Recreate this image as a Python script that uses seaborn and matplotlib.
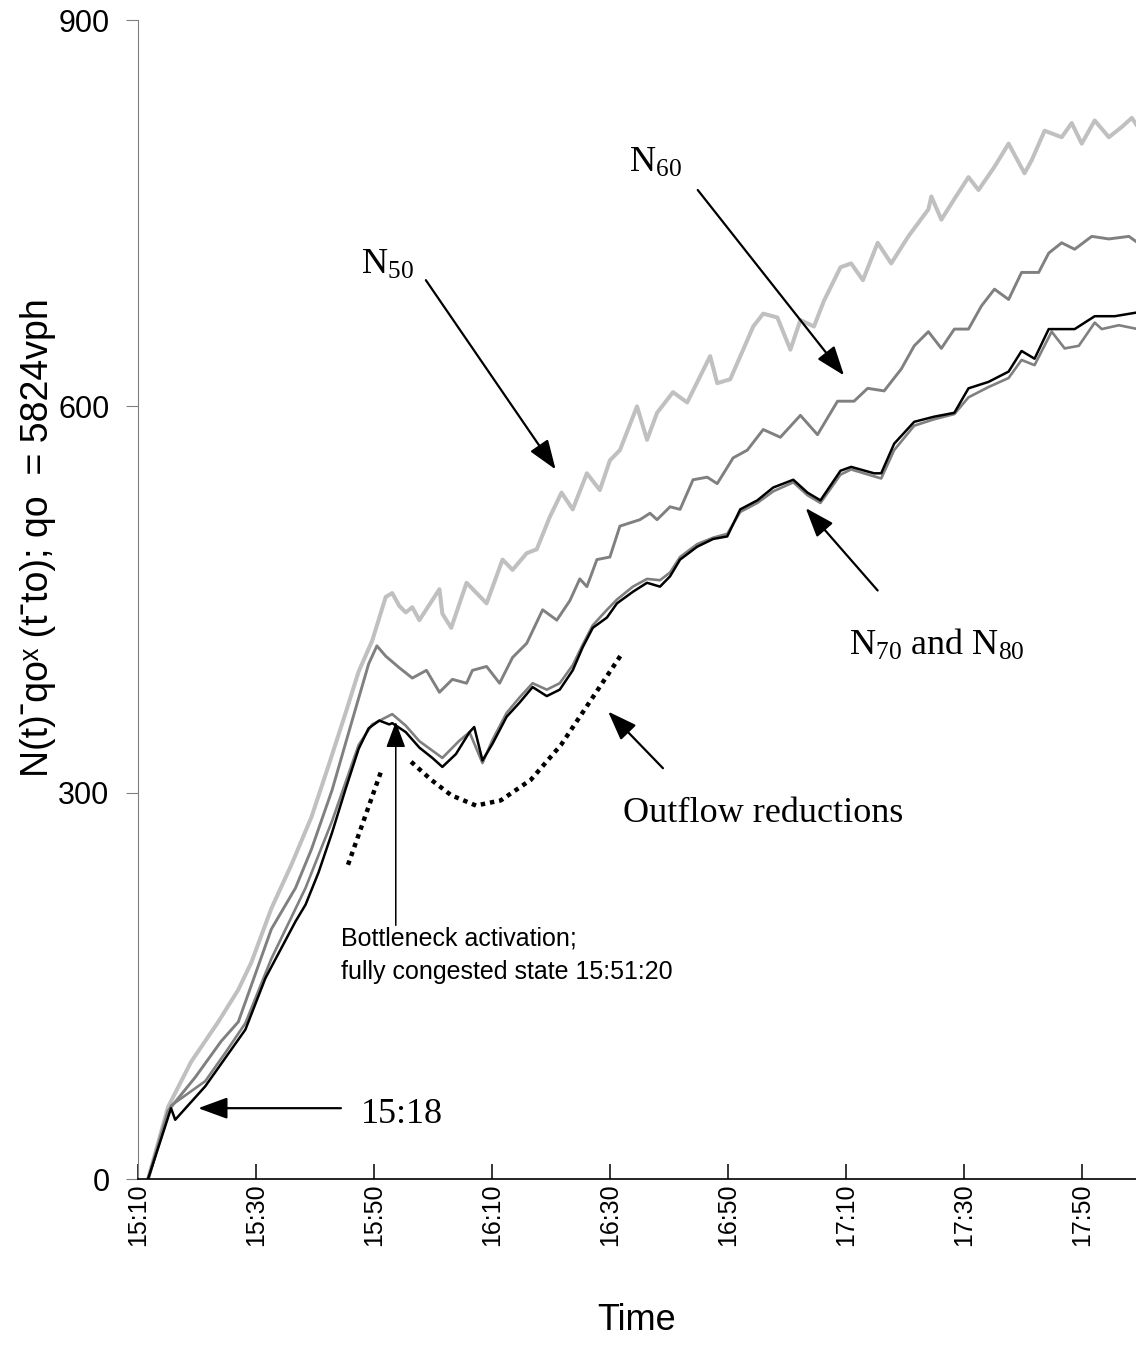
import numpy as np
import pandas as pd
import seaborn as sns
import matplotlib
matplotlib.use("Agg")
import matplotlib.pyplot as plt

#===========================================================================#
#### Data (minutes after 15:10, N(t) - qo*(t - to))
#===========================================================================#
t50 = [1.7, 5.1, 9.0, 13.6, 17.0, 19.2, 22.6, 26.0, 29.4, 32.3,
       35.2, 37.4, 39.7, 42.0, 43.1, 44.3, 45.4, 46.5, 47.7, 51.1,
       51.6, 53.1, 55.7, 59.1, 61.8, 63.5, 65.9, 67.6, 69.8, 71.8,
       73.7, 76.1, 78.3, 80.0, 81.7, 84.6, 86.3, 88.0, 90.7, 93.1,
       97.0, 98.2, 100.4, 102.6, 104.3, 106.0, 108.4, 110.6, 112.3, 114.6,
       116.3, 119.1, 120.9, 122.9, 125.4, 127.7, 130.6, 134.0, 134.5, 136.2,
       138.4, 140.8, 142.5, 145.2, 147.6, 150.3, 151.5, 153.7, 156.6, 158.3,
       160.0, 162.2, 164.6, 166.8, 168.5, 169.5]
n50 = [0, 56, 91, 122, 147, 168, 210, 244, 281, 321,
       362, 394, 418, 452, 455, 445, 440, 444, 434, 458,
       439, 428, 463, 447, 481, 473, 486, 489, 514, 533,
       520, 548, 535, 558, 566, 600, 574, 595, 611, 603,
       639, 618, 621, 644, 662, 672, 669, 644, 667, 662,
       682, 708, 711, 698, 727, 711, 732, 753, 763, 745,
       761, 778, 768, 786, 804, 781, 791, 814, 809, 820,
       804, 822, 809, 817, 824, 817]

t60 = [1.7, 5.1, 9.7, 14.1, 17.0, 22.6, 26.7, 29.4, 32.9, 36.3,
       39.1, 40.5, 42.0, 44.3, 46.5, 48.9, 51.1, 53.3, 55.7, 56.7,
       59.1, 61.3, 63.5, 65.9, 68.6, 71.0, 73.2, 74.9, 76.1, 77.8,
       80.0, 81.7, 85.1, 86.8, 88.0, 90.2, 91.9, 94.1, 96.5, 98.2,
       100.9, 103.3, 106.0, 108.9, 112.3, 115.2, 118.6, 121.4, 123.7, 126.5,
       129.4, 131.6, 134.0, 136.2, 138.4, 140.8, 143.0, 145.2, 147.6, 149.8,
       152.7, 154.4, 156.6, 158.8, 161.7, 164.6, 168.0, 169.5]
n60 = [0, 53, 79, 107, 122, 194, 226, 256, 302, 356,
       400, 414, 406, 397, 389, 395, 378, 388, 385, 395,
       398, 385, 405, 416, 442, 434, 449, 466, 460, 481,
       483, 507, 512, 517, 512, 522, 520, 543, 545, 540,
       560, 566, 582, 576, 593, 578, 604, 604, 614, 612,
       629, 647, 658, 645, 660, 660, 678, 691, 683, 704,
       704, 719, 727, 722, 732, 730, 732, 727]

t70 = [1.7, 5.6, 6.3, 11.4, 14.8, 18.2, 21.6, 23.8, 26.7, 28.4,
       30.6, 32.9, 35.2, 37.4, 39.1, 40.9, 42.6, 43.1, 45.4, 47.7,
       49.9, 51.6, 53.9, 56.2, 57.0, 58.4, 60.1, 62.5, 64.7, 66.9,
       69.3, 71.5, 73.7, 75.4, 77.1, 79.5, 81.2, 83.9, 86.3, 88.5,
       90.2, 91.9, 94.8, 97.5, 99.9, 102.1, 105.0, 107.7, 111.1, 113.5,
       115.7, 119.1, 120.9, 124.8, 126.0, 128.2, 131.6, 135.0, 138.4, 140.8,
       144.2, 147.6, 149.8, 152.0, 154.4, 158.8, 162.2, 165.6, 169.5]
n70 = [0, 55, 46, 72, 94, 116, 156, 175, 200, 213,
       238, 269, 303, 334, 350, 356, 353, 354, 347, 335,
       327, 320, 330, 347, 351, 325, 338, 359, 370, 382,
       375, 380, 395, 413, 428, 436, 447, 456, 463, 460,
       468, 481, 491, 497, 499, 520, 527, 537, 543, 533,
       527, 550, 553, 548, 548, 571, 588, 592, 595, 614,
       619, 627, 643, 637, 660, 660, 670, 670, 673]

t80 = [1.7, 5.6, 11.4, 14.8, 18.2, 22.6, 28.4, 32.9, 37.4, 39.7,
       43.1, 45.4, 47.7, 51.6, 54.4, 56.2, 58.4, 60.1, 62.5, 64.7,
       66.9, 69.3, 71.5, 73.7, 75.4, 77.1, 79.5, 81.2, 83.9, 86.3,
       88.5, 90.2, 91.9, 94.8, 97.5, 99.9, 102.1, 105.0, 107.7, 111.1,
       113.5, 115.7, 119.1, 120.9, 126.0, 128.2, 131.6, 135.0, 138.4, 140.8,
       144.2, 147.6, 149.8, 152.0, 154.9, 157.1, 159.5, 162.2, 163.4, 166.3, 169.5]
n80 = [0, 57, 76, 98, 121, 171, 226, 278, 337, 353,
       361, 352, 340, 327, 340, 347, 323, 341, 362, 374,
       385, 380, 385, 399, 415, 430, 442, 450, 460, 466,
       465, 471, 483, 493, 498, 501, 518, 525, 534, 541,
       531, 525, 547, 551, 544, 566, 585, 590, 594, 607,
       615, 622, 636, 632, 658, 645, 647, 665, 660, 663, 660]

# hand drawn dotted guides ("outflow reductions")
guide1_t = [35.6, 41.4]
guide1_n = [244, 319]
guide2_t = [46.3, 49.7, 53.1, 57.3, 61.5, 66.6, 71.7, 76.8, 81.9]
guide2_n = [324, 310, 298, 290, 294, 310, 337, 372, 407]

xtick_pos = [0, 20, 40, 60, 80, 100, 120, 140, 160]
xtick_labels = ["15:10", "15:30", "15:50", "16:10", "16:30",
                "16:50", "17:10", "17:30", "17:50"]
ytick_pos = [0, 300, 600, 900]

#===========================================================================#
#### Plot
#===========================================================================#
sns.set_style("white")
plt.rcParams['font.family'] = ['Liberation Sans', 'DejaVu Sans']
plt.rcParams['text.color'] = 'black'
plt.rcParams['axes.labelcolor'] = 'black'
plt.rcParams['xtick.color'] = 'black'
plt.rcParams['ytick.color'] = 'black'
plt.rcParams['mathtext.fontset'] = 'custom'
plt.rcParams['mathtext.rm'] = 'Liberation Serif'
plt.rcParams['mathtext.it'] = 'Liberation Serif:italic'
serif = ['Liberation Serif', 'DejaVu Serif']

fig = plt.figure(figsize=(11.36, 13.53), dpi=100)
ax = fig.add_axes([0.1215, 0.1286, 0.8785, 0.8566])

sns.lineplot(x=t50, y=n50, ax=ax, color='#c0c0c0', lw=2.9)
sns.lineplot(x=t60, y=n60, ax=ax, color='#808080', lw=2.1)
sns.lineplot(x=t80, y=n80, ax=ax, color='#808080', lw=1.9)
sns.lineplot(x=t70, y=n70, ax=ax, color='black', lw=1.8)

ax.plot(guide1_t, guide1_n, color='black', lw=3.2, ls=(0, (1, 1.1)))
ax.plot(guide2_t, guide2_n, color='black', lw=3.2, ls=(0, (1, 1.1)))

ax.set_xlim(0, 169.2)
ax.set_ylim(0, 900)
ax.set_xticks(xtick_pos)
ax.set_xticklabels(xtick_labels, rotation=90)
ax.set_yticks(ytick_pos)
ax.tick_params(axis='x', direction='in', length=11, width=1.1, color='black',
               labelcolor='black', pad=3, labelsize=18, bottom=True)
ax.tick_params(axis='y', direction='out', length=8.5, width=0.8, color='#808080',
               labelcolor='black', pad=12, labelsize=22, left=True)

for s in ['top', 'right']:
    ax.spines[s].set_visible(False)
ax.spines['left'].set_color('#808080')
ax.spines['left'].set_linewidth(0.8)
ax.spines['bottom'].set_color('black')
ax.spines['bottom'].set_linewidth(1.2)

ax.set_ylabel("N(t)ˉqoˣ (tˉto); qo  = 5824vph", fontsize=27)
ax.yaxis.set_label_coords(-0.100, 0.553)
ax.yaxis.label.set_va('center')
ax.set_xlabel("Time", fontsize=26)
ax.xaxis.set_label_coords(0.5, -0.1217)
ax.xaxis.label.set_va('center')

# Annotations
arrow = dict(arrowstyle='-|>,head_length=0.9,head_width=0.33', color='black',
             lw=1.6, shrinkA=0, shrinkB=0, mutation_scale=20)
thin = dict(arrowstyle='-|>,head_length=0.8,head_width=0.3', color='black',
            lw=1.1, shrinkA=0, shrinkB=0, mutation_scale=20)

ax.text(37.8, 703, "N$_{50}$", fontsize=26, family=serif)
ax.annotate("", xy=(70.8, 551), xytext=(48.8, 698), arrowprops=arrow)
ax.text(83.2, 782, "N$_{60}$", fontsize=26, family=serif)
ax.annotate("", xy=(119.7, 624), xytext=(94.9, 768), arrowprops=arrow)
ax.text(120.5, 407, "N$_{70}$ and N$_{80}$", fontsize=26, family=serif)
ax.annotate("", xy=(113.2, 521), xytext=(125.4, 457), arrowprops=arrow)
ax.text(82.2, 277, "Outflow reductions", fontsize=26, family=serif)
ax.annotate("", xy=(79.7, 363), xytext=(89.0, 319), arrowprops=arrow)
ax.text(34.4, 196, "Bottleneck activation;\nfully congested state 15:51:20",
        fontsize=18, va='top', linespacing=1.5)
ax.annotate("", xy=(43.7, 355), xytext=(43.7, 197), arrowprops=thin)
ax.text(37.8, 43.5, "15:18", fontsize=26, family=serif)
ax.annotate("", xy=(10.2, 55), xytext=(34.4, 55), arrowprops=arrow)

fig.savefig("out.png", dpi=100)
